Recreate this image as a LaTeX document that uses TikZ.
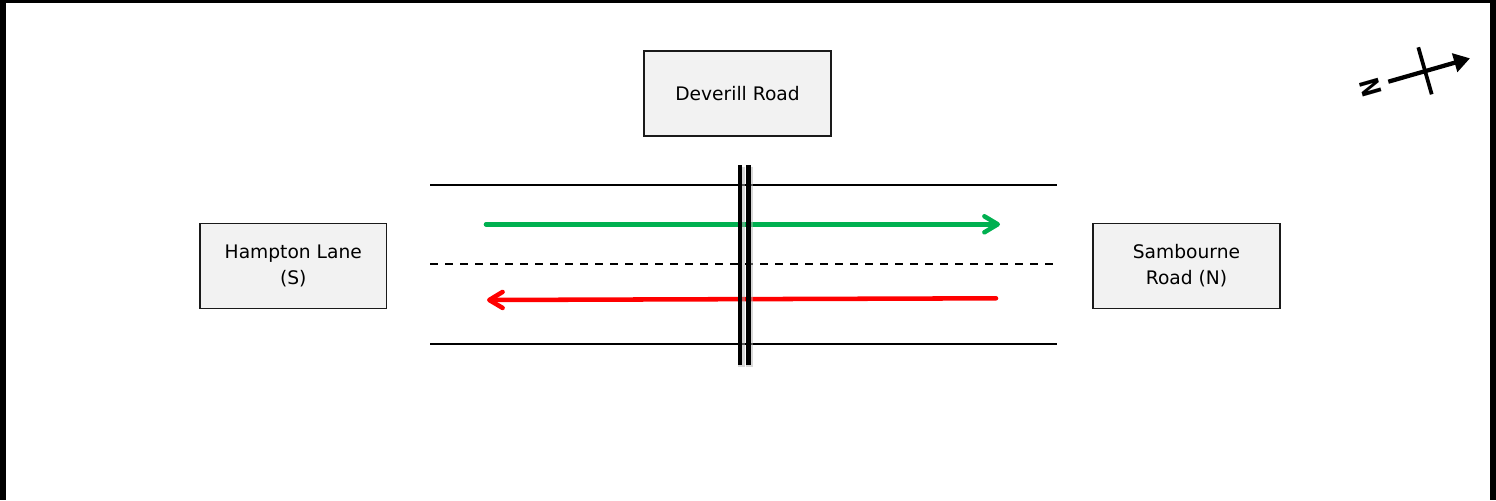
\documentclass[tikz,border=0pt]{standalone}
\usepackage{fontspec}
\setmainfont{DejaVu Sans}
\usetikzlibrary{arrows.meta}
\definecolor{flowgreen}{HTML}{00B050}
\definecolor{flowred}{HTML}{FF0000}
\definecolor{boxfill}{HTML}{F2F2F2}
\definecolor{boxline}{HTML}{1A1A1A}
\begin{document}
\begin{tikzpicture}[x=0.75pt,y=-0.75pt,
  place/.style={draw=boxline, line width=1.2pt, fill=boxfill, minimum width=140pt,
    minimum height=64pt, inner sep=0pt, align=center,
    font=\fontsize{14}{19.5}\selectfont},
  road/.style={line width=1.5pt},
  centreline/.style={line width=1.5pt, dash pattern=on 6pt off 5.25pt},
  flow/.style={line width=3.4pt, line cap=round,
    -{Straight Barb[length=10pt,width=12pt,line cap=round,round]}},
  stopbar/.style={line width=3.5pt},
  barshadow/.style={line width=5pt, black!30, opacity=0.5},
  northline/.style={line width=3.2pt},
]
\useasboundingbox (0,0) rectangle (1496,500);
% frame
\fill[black] (0,0) rectangle (6,500);
\fill[black] (1490,0) rectangle (1496,500);
\fill[black] (0,0) rectangle (1496,3);
% boxes
\node[place] (dev) at (737.5,93.5) {Deverill Road};
\node[place] (ham) at (293.3,266) {Hampton Lane\\(S)};
\node[place] (sam) at (1186.5,266) {Sambourne\\Road (N)};
% road
\coordinate (rtl) at (430,184.5);
\coordinate (rtr) at (1057,184.5);
\coordinate (rbl) at (430,344);
\coordinate (rbr) at (1057,344);
\coordinate (rml) at (430,264);
\coordinate (rmr) at (1057,264);
\draw[road] (rtl) -- (rtr);
\draw[road] (rbl) -- (rbr);
\draw[centreline] (rml) -- (rmr);
% flows
\coordinate (gs) at (486,224.3);
\coordinate (ge) at (1000,224.3);
\coordinate (rs) at (996,298.3);
\coordinate (re) at (487,300);
\draw[flow, flowgreen] (gs) -- (ge);
\draw[flow, flowred] (rs) -- (re);
% stop line (double bar)
\coordinate (b1t) at (740,165);
\coordinate (b1b) at (740,365);
\coordinate (b2t) at (748.3,165);
\coordinate (b2b) at (748.3,365);
\draw[barshadow] ([shift={(1.5,1.5)}]b1t) -- ([shift={(1.5,1.5)}]b1b);
\draw[barshadow] ([shift={(1.5,1.5)}]b2t) -- ([shift={(1.5,1.5)}]b2b);
\draw[stopbar] (b1t) -- (b1b);
\draw[stopbar] (b2t) -- (b2b);
% north arrow
\coordinate (na) at (1388.3,81.7);
\coordinate (nb) at (1470,58.3);
\coordinate (nc) at (1418.3,47.3);
\coordinate (nd) at (1431.7,94.3);
\draw[northline, -{Triangle[length=12pt,width=14pt]}] (na) -- (nb);
\draw[line width=2.8pt] (nc) -- (nd);
\node[font=\fontsize{20}{20}\selectfont\bfseries, rotate=106, xscale=0.8, inner sep=0pt] (nlab) at (1371,88) {N};
\end{tikzpicture}
\end{document}
